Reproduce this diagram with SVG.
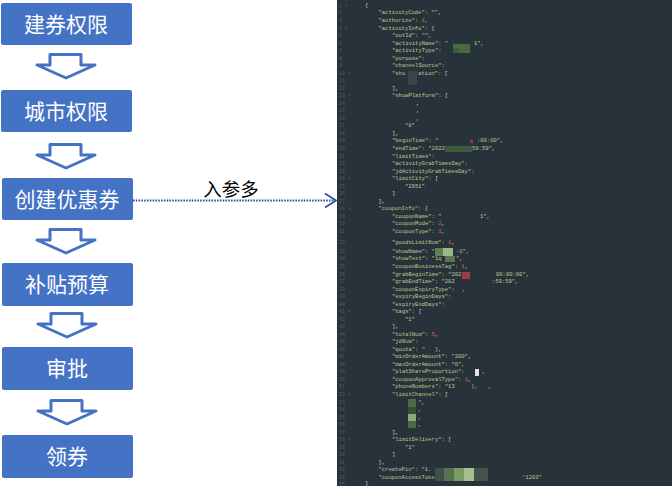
<svg xmlns="http://www.w3.org/2000/svg" width="672" height="486" viewBox="0 0 672 486">
<defs>
<style>
.box{fill:#4472c4}
.bt{fill:#fff;font-family:"Noto Sans CJK SC","Noto Sans",sans-serif;font-size:21px;text-anchor:middle}
.harrow{fill:#fff;stroke:#4472c4;stroke-width:3;stroke-linejoin:round}
.conn{stroke:#2f5597;stroke-width:1.8;fill:none}
.lbl{fill:#000;font-family:"Noto Sans CJK SC",sans-serif;font-size:18.5px;text-anchor:middle}
.code{font-family:"Liberation Mono",monospace;font-size:5.5px;fill:#b9cc92}
.ln{font-family:"Liberation Mono",monospace;font-size:5px;fill:#4f5f66}
.n{fill:#e0606e}
.w{fill:#cfd4d6}
</style>
<marker id="chev" markerWidth="14" markerHeight="18" refX="12" refY="8" orient="auto" markerUnits="userSpaceOnUse">
<polyline points="1,1 12,8 1,15" fill="none" stroke="#2f5597" stroke-width="1.8"/>
</marker>
</defs>
<rect width="672" height="486" fill="#fff"/>

<!-- code panel -->
<g id="code-panel">
<rect x="337" y="0" width="335" height="486" fill="#28323a"/>
<g class="ln">
<text x="339" y="6.9">1 ▾</text><text x="339" y="14.4">2</text><text x="339" y="22">3</text><text x="339" y="29.5">4 ▾</text><text x="339" y="37">5</text><text x="339" y="44.6">6</text><text x="339" y="52.1">7</text><text x="339" y="59.6">8</text><text x="339" y="67.1">9</text><text x="339" y="74.7">10 ▾</text><text x="339" y="82.2">11</text><text x="339" y="89.7">12</text><text x="339" y="97.3">13 ▾</text><text x="339" y="104.8">14</text><text x="339" y="112.3">15</text><text x="339" y="119.9">16</text><text x="339" y="127.4">17</text><text x="339" y="134.9">18</text><text x="339" y="142.4">19</text><text x="339" y="150">20</text><text x="339" y="157.5">21</text><text x="339" y="165">22</text><text x="339" y="172.6">23</text><text x="339" y="180.1">24 ▾</text><text x="339" y="187.6">25</text><text x="339" y="195.2">26</text><text x="339" y="202.7">27</text><text x="339" y="210.2">28 ▾</text><text x="339" y="217.7">29</text><text x="339" y="225.3">30</text><text x="339" y="232.8">31</text><text x="339" y="243.9">32</text><text x="339" y="252.9">33</text><text x="339" y="260.4">34</text><text x="339" y="268">35</text><text x="339" y="275.5">36</text><text x="339" y="283">37</text><text x="339" y="290.6">38</text><text x="339" y="298.1">39</text><text x="339" y="305.6">40</text><text x="339" y="313.1">41 ▾</text><text x="339" y="320.7">42</text><text x="339" y="328.2">43</text><text x="339" y="335.7">44</text><text x="339" y="343.3">45</text><text x="339" y="350.8">46</text><text x="339" y="358.3">47</text><text x="339" y="365.9">48</text><text x="339" y="373.4">49</text><text x="339" y="380.9">50</text><text x="339" y="388.4">51</text><text x="339" y="396">52 ▾</text><text x="339" y="403.5">53</text><text x="339" y="411">54</text><text x="339" y="418.6">55</text><text x="339" y="426.1">56</text><text x="339" y="433.6">57</text><text x="339" y="441.2">58 ▾</text><text x="339" y="448.7">59</text><text x="339" y="456.2">60</text><text x="339" y="463.7">61</text><text x="339" y="471.3">62</text><text x="339" y="478.8">63</text><text x="339" y="485.2">64</text>
</g>
<g class="code">
<text x="365" y="6.9" class="w">{</text>
<text x="378.5" y="14.4">"activityCode": "",</text>
<text x="378.5" y="22">"authorize": <tspan class="n">1</tspan>,</text>
<text x="378.5" y="29.5">"activityInfo": <tspan class="w">{</tspan></text>
<text x="392" y="37">"outId": "",</text>
<text x="392" y="44.6">"activityName": "</text><text x="474" y="44.6">1",</text>
<text x="392" y="52.1">"activityType":</text>
<text x="392" y="59.6">"purpose":</text>
<text x="392" y="67.1">"channelSource":</text>
<text x="392" y="74.7">"sho</text><text x="418" y="74.7">ation": <tspan class="w">[</tspan></text>
<text x="392" y="89.7" class="w">],</text>
<text x="392" y="97.3">"showPlatform": <tspan class="w">[</tspan></text>
<text x="416" y="104.8" class="w">,</text>
<text x="416" y="112.3" class="w">,</text>
<text x="416" y="119.9" class="w">,</text>
<text x="405" y="127.4">"8"</text>
<text x="392" y="134.9" class="w">],</text>
<text x="392" y="142.4">"beginTime": "</text><text x="477" y="142.4">:00:00",</text>
<text x="392" y="150">"endTime": "2022-</text><text x="472" y="150">59:59",</text>
<text x="392" y="157.5">"limitTimes":</text>
<text x="392" y="165">"activityGrabTimesDay":</text>
<text x="392" y="172.6">"jdActivityGrabTimesDay":</text>
<text x="392" y="180.1">"limitCity": <tspan class="w">[</tspan></text>
<text x="405" y="187.6">"2951"</text>
<text x="392" y="195.2" class="w">]</text>
<text x="378.5" y="202.7" class="w">},</text>
<text x="378.5" y="210.2">"couponInfo": <tspan class="w">{</tspan></text>
<text x="392" y="217.7">"couponName": "</text><text x="480" y="217.7">1",</text>
<text x="392" y="225.3">"couponMode": <tspan class="n">2</tspan>,</text>
<text x="392" y="232.8">"couponType": <tspan class="n">1</tspan>,</text>
<text x="392" y="243.9">"goodsLimitNum": <tspan class="n">1</tspan>,</text>
<text x="392" y="252.9">"showName": "</text><text x="456" y="252.9">-1",</text>
<text x="392" y="260.4">"showText": "1q</text><text x="456" y="260.4">",</text>
<text x="392" y="268">"couponBusinessTag": <tspan class="n">1</tspan>,</text>
<text x="392" y="275.5">"grabBeginTime": "202</text><text x="496" y="275.5">00:00:00",</text>
<text x="392" y="283">"grabEndTime": "202</text><text x="492" y="283">:59:59",</text>
<text x="392" y="290.6">"couponExpiryType":</text><text x="462" y="290.6">,</text>
<text x="392" y="298.1">"expiryBeginDays":</text>
<text x="392" y="305.6">"expiryEndDays":</text>
<text x="392" y="313.1">"tags": <tspan class="w">[</tspan></text>
<text x="405" y="320.7">"1"</text>
<text x="392" y="328.2" class="w">],</text>
<text x="392" y="335.7">"totalNum": <tspan class="n">5</tspan>,</text>
<text x="392" y="343.3">"jdNum":</text>
<text x="392" y="350.8">"quota": "</text><text x="435" y="350.8">},</text>
<text x="392" y="358.3">"minOrderAmount": "200",</text>
<text x="392" y="365.9">"maxOrderAmount": "0",</text>
<text x="392" y="373.4">"platShareProportion":</text><text x="482" y="373.4">,</text>
<text x="392" y="380.9">"couponApprovalType": <tspan class="n">1</tspan>,</text>
<text x="392" y="388.4">"phoneNumbers": "13</text><text x="471" y="388.4">),</text><text x="488" y="388.4">,</text>
<text x="392" y="396">"limitChannel": <tspan class="w">[</tspan></text>
<text x="418" y="403.5">",</text>
<text x="418" y="411">,</text>
<text x="418" y="418.6">,</text>
<text x="418" y="426.1">,</text>
<text x="392" y="433.6" class="w">],</text>
<text x="392" y="441.2">"limitDelivery": <tspan class="w">[</tspan></text>
<text x="405" y="448.7">"1"</text>
<text x="392" y="456.2" class="w">]</text>
<text x="378.5" y="463.7" class="w">},</text>
<text x="378.5" y="471.3">"createPin": "1.</text><text x="473" y="471.3">,</text>
<text x="378.5" y="478.8">"couponAccessToke</text><text x="522" y="478.8">'1203"</text>
<text x="365" y="485.2" class="w">}</text>
</g>
<!-- redaction mosaics -->
<g>
<rect x="453" y="44" width="17" height="9" fill="#4a6a45"/>
<rect x="453" y="48" width="6" height="5" fill="#3d5a3b"/>
<rect x="408" y="71" width="9" height="14" fill="#3b4548"/>
<rect x="445" y="146" width="27" height="6" fill="#3d5a3f"/>
<rect x="470" y="140" width="3" height="3" fill="#8a4050"/>
<rect x="435" y="248" width="8" height="8" fill="#5f7f55"/>
<rect x="443" y="248" width="10" height="8" fill="#9cb88a"/>
<rect x="445" y="256" width="10" height="6" fill="#5a7550"/>
<rect x="462" y="272" width="8" height="7" fill="#a03a4a"/>
<rect x="475" y="369" width="4" height="7" fill="#dfe3e0"/>
<rect x="408" y="399" width="8" height="8" fill="#4f6a47"/>
<rect x="408" y="407" width="8" height="7" fill="#3a4d3d"/>
<rect x="408" y="414" width="8" height="7" fill="#8aa87a"/>
<rect x="408" y="421" width="8" height="7" fill="#4a6a45"/>
<rect x="435" y="468" width="9" height="13" fill="#3f4f47"/>
<rect x="444" y="468" width="10" height="13" fill="#58744f"/>
<rect x="454" y="468" width="10" height="13" fill="#7a9a68"/>
<rect x="464" y="468" width="10" height="13" fill="#a4c08c"/>
<rect x="474" y="468" width="14" height="13" fill="#46534c"/>
</g>
</g>

<!-- nodes -->
<g id="node-jianquan"><rect class="box" x="1" y="3" width="131" height="42" rx="2"/><text class="bt" x="66" y="31.5">建券权限</text></g>
<g id="node-city"><rect class="box" x="1" y="90" width="131" height="42" rx="2"/><text class="bt" x="66" y="118.5">城市权限</text></g>
<g id="node-create"><rect class="box" x="2" y="178" width="131" height="42" rx="2"/><text class="bt" x="67" y="206.5">创建优惠券</text></g>
<g id="node-budget"><rect class="box" x="2" y="263" width="131" height="43" rx="2"/><text class="bt" x="67" y="292">补贴预算</text></g>
<g id="node-approve"><rect class="box" x="2" y="347" width="131" height="43" rx="2"/><text class="bt" x="67" y="376">审批</text></g>
<g id="node-receive"><rect class="box" x="2" y="435" width="131" height="43" rx="2"/><text class="bt" x="67" y="464">领券</text></g>

<!-- connectors -->
<g id="connectors">
<path class="harrow" d="M50,54.5 H81 V65 H95 L66,78 L37,65 H50 Z"/>
<path class="harrow" d="M50,144.5 H81 V155 H95 L66,168 L37,155 H50 Z"/>
<path class="harrow" d="M50,229.5 H81 V240 H95 L66,253 L37,240 H50 Z"/>
<path class="harrow" d="M51,313.5 H82 V324 H96 L67,337 L38,324 H51 Z"/>
<path class="harrow" d="M51,400.5 H82 V411 H96 L67,424 L38,411 H51 Z"/>
<line class="conn" x1="133" y1="200.5" x2="336" y2="200.5" stroke-dasharray="1.6 1.2" marker-end="url(#chev)"/>
<text class="lbl" x="231" y="196">入参多</text>
</g>
</svg>
